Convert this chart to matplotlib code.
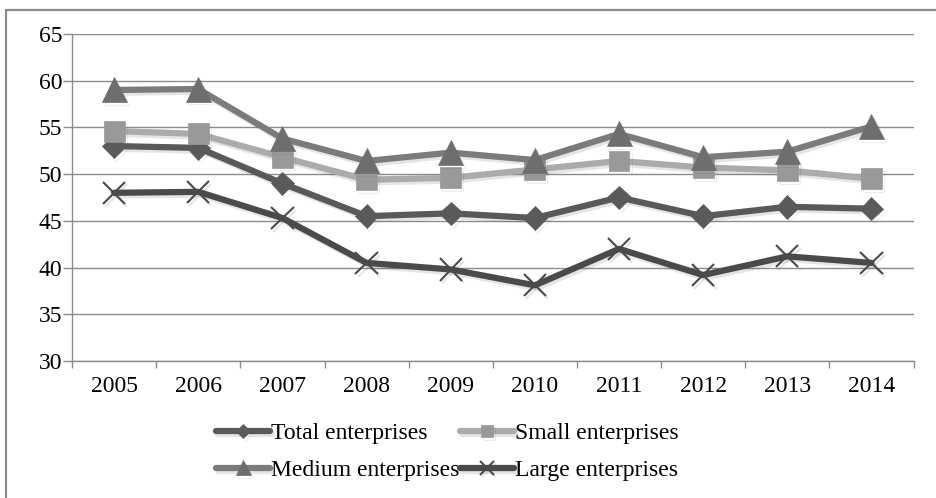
import matplotlib.pyplot as plt
import matplotlib.patheffects as pe
from matplotlib.patches import Rectangle
import numpy as np

plt.rcParams['font.family'] = ['Liberation Serif', 'DejaVu Serif']

# Share of enterprises by size class, 2005-2014
years = ['2005', '2006', '2007', '2008', '2009', '2010', '2011', '2012', '2013', '2014']
total = [53.0, 52.8, 49.0, 45.5, 45.8, 45.3, 47.5, 45.5, 46.5, 46.3]
small = [54.6, 54.3, 51.8, 49.4, 49.6, 50.5, 51.4, 50.7, 50.4, 49.5]
medium = [59.0, 59.1, 53.8, 51.4, 52.3, 51.5, 54.3, 51.8, 52.4, 55.1]
large = [48.0, 48.1, 45.3, 40.5, 39.8, 38.1, 42.0, 39.2, 41.2, 40.5]

fig = plt.figure(figsize=(9.36, 4.98), dpi=100)
ax = fig.add_axes([0.077, 0.275, 0.899, 0.657])

# outer chart frame (only top and left edges fall inside the canvas)
fig.patches.append(Rectangle((6 / 936, -0.2), 1.2, 1.2 - 10 / 498,
                             transform=fig.transFigure, fill=False,
                             edgecolor='#8c8c8c', linewidth=1.6, zorder=0))

x = np.arange(len(years))
shadow = [pe.SimpleLineShadow(offset=(1.5, -2), alpha=0.15, shadow_color='#555555'),
          pe.Normal()]

series = [
    (total, 'Total enterprises', '#595959', 'D', 12, '#5a5a5a'),
    (small, 'Small enterprises', '#ababab', 's', 15, '#999999'),
    (medium, 'Medium enterprises', '#7b7b7b', '^', 18, '#6e6e6e'),
    (large, 'Large enterprises', '#4a4a4a', 'x', 16, '#4a4a4a'),
]
lines = {}
for vals, name, col, mk, ms, mcol in series:
    ln, = ax.plot(x, vals, color=col, linewidth=4.5, marker=mk, markersize=ms,
                  markerfacecolor=mcol, markeredgecolor=mcol,
                  markeredgewidth=1.5 if mk == 'x' else 0.5,
                  label=name, solid_capstyle='round', path_effects=shadow)
    lines[name] = ln

ax.set_xlim(-0.5, len(years) - 0.5)
ax.set_ylim(30, 65)
ax.set_yticks(np.arange(30, 66, 5))
ax.grid(axis='y', color='#8c8c8c', linewidth=1.0)
ax.set_axisbelow(True)

# category boundaries carry the tick marks, labels sit at the centres
ax.set_xticks(np.arange(-0.5, len(years), 1.0))
ax.set_xticklabels([])
ax.set_xticks(x, minor=True)
ax.set_xticklabels(years, minor=True)
ax.tick_params(axis='x', which='major', length=5, color='#8c8c8c', width=1)
ax.tick_params(axis='x', which='minor', length=0, pad=11, labelsize=17)
ax.tick_params(axis='y', length=6.5, color='#8c8c8c', width=1, pad=0.5, labelsize=17)

for side in ['top', 'right']:
    ax.spines[side].set_visible(False)
for side in ['left', 'bottom']:
    ax.spines[side].set_color('#8c8c8c')
    ax.spines[side].set_linewidth(1.0)

# legend rows: Total / Small, then Medium / Large
order = ['Total enterprises', 'Medium enterprises', 'Small enterprises', 'Large enterprises']
fig.legend([lines[n] for n in order], order, loc='upper center',
           bbox_to_anchor=(0.478, 0.17), ncol=2, frameon=False, fontsize=17,
           handlelength=2.3, handletextpad=0.05, columnspacing=0.0,
           labelspacing=0.65, borderaxespad=0, markerscale=0.6)

fig.savefig('out.png', dpi=100)
